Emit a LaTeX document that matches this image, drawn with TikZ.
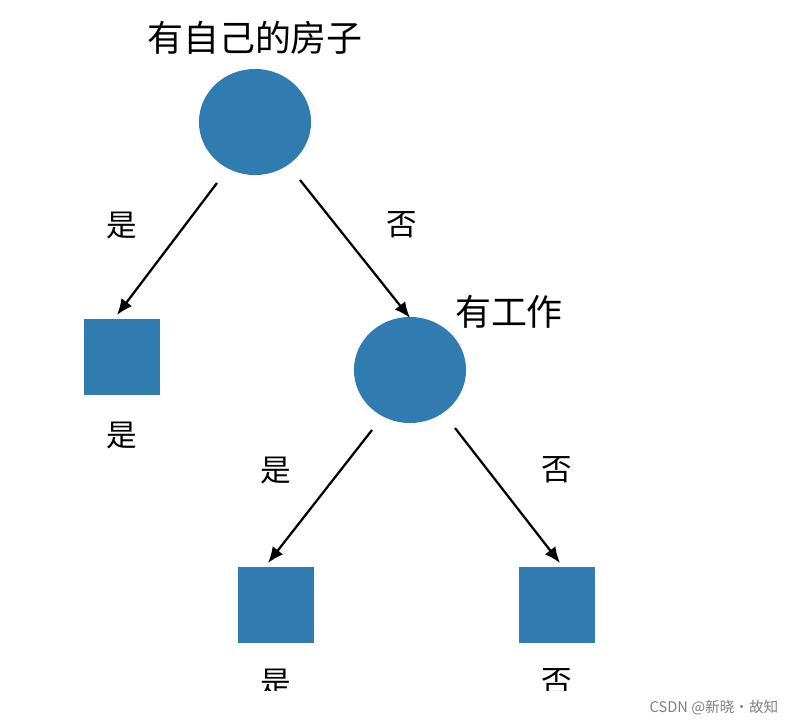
\documentclass[tikz,border=0pt]{standalone}
\usepackage{fontspec}
\setmainfont{Noto Sans CJK SC}
\usetikzlibrary{arrows.meta,shapes.geometric}
\definecolor{nodeblue}{RGB}{48,124,176}
\begin{document}
\begin{tikzpicture}[x=0.0264cm,y=-0.0264cm,
    inner/.style={ellipse, fill=nodeblue, minimum width=2.96cm, minimum height=2.8cm, inner sep=0pt},
    leaf/.style={rectangle, fill=nodeblue, minimum size=2cm, inner sep=0pt},
    lbl/.style={font=\fontsize{23}{26}\selectfont},
    ttl/.style={font=\fontsize{27}{30}\selectfont},
    arr/.style={-{Latex[length=12pt,width=10pt]}, line width=1.7pt}]
\useasboundingbox (0,0) rectangle (811,727);
\begin{scope}
\clip (0,0) rectangle (811,690);
% decision nodes
\node[inner] (house) at (255,122) {};
\node[inner] (job) at (410,370) {};
% leaves
\node[leaf] (leafA) at (122,357) {};
\node[leaf] (leafB) at (276,605) {};
\node[leaf] (leafC) at (557,605) {};
% titles
\node[ttl] at (255,38) {有自己的房子};
\node[ttl] at (509,312) {有工作};
\node[lbl] at (122,435) {是};
\node[lbl] at (276,682) {是};
\node[lbl] at (557,682) {否};
% arrow ends
\coordinate (a1) at (217,183); \coordinate (a2) at (117,315);
\coordinate (b1) at (300,180); \coordinate (b2) at (410,318);
\coordinate (c1) at (372,430); \coordinate (c2) at (268,563);
\coordinate (d1) at (455,428); \coordinate (d2) at (560,563);
\draw[arr] (a1) -- (a2);
\draw[arr] (b1) -- (b2);
\draw[arr] (c1) -- (c2);
\draw[arr] (d1) -- (d2);
\node[lbl] at (122,225) {是};
\node[lbl] at (402,225) {否};
\node[lbl] at (276,470) {是};
\node[lbl] at (557,470) {否};
\end{scope}
\node[text=gray, font=\fontsize{11}{13}\selectfont] at (714,708) {CSDN @新晓·故知};
\end{tikzpicture}
\end{document}
